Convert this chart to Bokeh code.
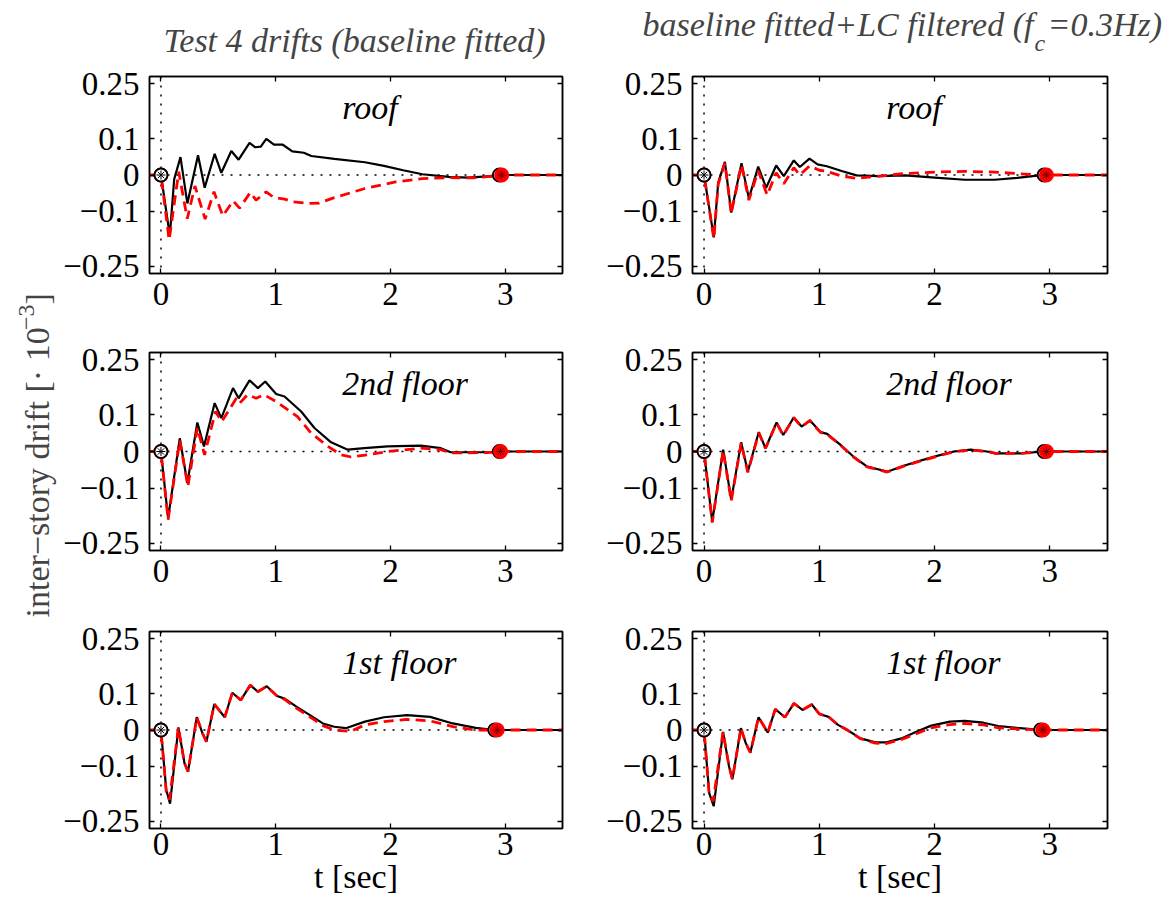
import math
from bokeh.plotting import figure
from bokeh.models import LinearAxis, FixedTicker, Span, Label, Range1d, CustomJSTickFormatter
from bokeh.layouts import row, column
from bokeh.embed import file_html
from bokeh.resources import INLINE

# ---------------- data (t in sec, drift in 1e-3) ----------------
# roof, baseline fitted
t_roof_bf_k = [-0.1, 0, 0.077, 0.115, 0.17, 0.23, 0.323, 0.381, 0.468, 0.526, 0.613, 0.677, 0.772, 0.822, 0.87, 0.918, 0.985, 1.062, 1.145, 1.245, 1.311, 1.511, 1.778, 1.944, 2.111, 2.278, 2.51, 2.677, 2.88, 2.95, 3.5]
v_roof_bf_k = [0, 0, -0.166, -0.012, 0.049, -0.078, 0.054, -0.035, 0.058, 0.006, 0.066, 0.042, 0.088, 0.076, 0.078, 0.099, 0.083, 0.083, 0.065, 0.061, 0.052, 0.044, 0.035, 0.025, 0.013, 0.002, -0.005, -0.007, -0.003, 0, 0]
t_roof_bf_r = [-0.1, 0, 0.071, 0.155, 0.229, 0.296, 0.385, 0.462, 0.539, 0.629, 0.685, 0.778, 0.829, 0.917, 0.985, 1.078, 1.145, 1.278, 1.378, 1.511, 1.778, 2.045, 2.278, 2.51, 2.71, 2.88, 2.97, 3.5]
v_roof_bf_r = [0, 0, -0.178, 0.009, -0.12, -0.03, -0.121, -0.046, -0.112, -0.071, -0.091, -0.048, -0.069, -0.046, -0.062, -0.066, -0.073, -0.078, -0.077, -0.062, -0.037, -0.019, -0.01, -0.007, -0.008, -0.004, 0, 0]
# roof, baseline fitted + LC filtered
t_roof_lc_k = [-0.1, 0, 0.085, 0.123, 0.181, 0.236, 0.325, 0.389, 0.47, 0.539, 0.626, 0.692, 0.779, 0.831, 0.915, 0.985, 1.065, 1.194, 1.323, 1.518, 1.744, 2.003, 2.262, 2.521, 2.716, 2.91, 2.95, 3.5]
v_roof_lc_k = [0, 0, -0.171, -0.021, 0.036, -0.103, 0.032, -0.064, 0.023, -0.035, 0.026, -0.003, 0.04, 0.022, 0.045, 0.029, 0.024, 0.011, -0.001, -0.003, -0.001, -0.007, -0.013, -0.013, -0.008, -0.001, 0, 0]
t_roof_lc_r = [-0.1, 0, 0.085, 0.123, 0.181, 0.236, 0.325, 0.389, 0.47, 0.548, 0.626, 0.692, 0.779, 0.831, 0.915, 1.0, 1.065, 1.194, 1.323, 1.518, 1.744, 2.003, 2.262, 2.521, 2.716, 2.91, 2.97, 3.5]
v_roof_lc_r = [0, 0, -0.175, -0.025, 0.033, -0.106, 0.028, -0.069, 0.012, -0.055, 0.006, -0.024, 0.02, 0.0, 0.025, 0.013, 0.01, -0.003, -0.009, -0.003, 0.004, 0.008, 0.01, 0.008, 0.004, 0.0, 0, 0]
# 2nd floor, baseline fitted
t_f2_bf_k = [-0.1, 0, 0.062, 0.164, 0.23, 0.317, 0.375, 0.468, 0.526, 0.628, 0.677, 0.772, 0.845, 0.909, 1.004, 1.077, 1.222, 1.338, 1.483, 1.628, 1.772, 1.976, 2.265, 2.439, 2.526, 2.845, 2.95, 3.5]
v_f2_bf_k = [0, 0, -0.182, 0.036, -0.086, 0.079, 0.014, 0.132, 0.091, 0.173, 0.145, 0.194, 0.173, 0.191, 0.157, 0.15, 0.109, 0.064, 0.025, 0.005, 0.009, 0.014, 0.016, 0.009, -0.002, -0.002, 0, 0]
t_f2_bf_r = [-0.1, 0, 0.062, 0.164, 0.235, 0.317, 0.38, 0.475, 0.53, 0.657, 0.687, 0.755, 0.83, 0.897, 1.004, 1.19, 1.309, 1.454, 1.57, 1.657, 1.8, 1.976, 2.265, 2.439, 2.526, 2.845, 2.96, 3.5]
v_f2_bf_r = [0, 0, -0.186, 0.03, -0.095, 0.065, -0.009, 0.109, 0.082, 0.145, 0.132, 0.155, 0.145, 0.155, 0.136, 0.095, 0.05, 0.014, -0.009, -0.015, -0.009, 0.0, 0.009, 0.005, -0.004, -0.003, 0, 0]
# 2nd floor, baseline fitted + LC filtered
t_f2_lc_k = [-0.1, 0, 0.071, 0.166, 0.236, 0.322, 0.38, 0.475, 0.533, 0.629, 0.687, 0.779, 0.846, 0.918, 1.01, 1.068, 1.184, 1.3, 1.415, 1.589, 1.733, 1.878, 2.022, 2.167, 2.311, 2.456, 2.528, 2.745, 2.95, 3.5]
v_f2_lc_k = [0, 0, -0.191, 0.005, -0.132, 0.025, -0.055, 0.053, 0.009, 0.079, 0.045, 0.093, 0.068, 0.085, 0.053, 0.048, 0.018, -0.015, -0.041, -0.055, -0.039, -0.025, -0.012, 0.0, 0.005, 0.0, -0.005, -0.005, 0, 0]
t_f2_lc_r = [-0.1, 0, 0.071, 0.166, 0.236, 0.322, 0.38, 0.475, 0.533, 0.629, 0.687, 0.779, 0.846, 0.918, 1.01, 1.068, 1.184, 1.3, 1.415, 1.589, 1.733, 1.878, 2.022, 2.167, 2.311, 2.456, 2.528, 2.745, 2.97, 3.5]
v_f2_lc_r = [0, 0, -0.194, 0.003, -0.135, 0.023, -0.057, 0.051, 0.008, 0.078, 0.044, 0.092, 0.067, 0.084, 0.052, 0.047, 0.017, -0.016, -0.042, -0.056, -0.04, -0.026, -0.013, -0.001, 0.004, 0.0, -0.005, -0.005, 0, 0]
# 1st floor, baseline fitted
t_f1_bf_k = [-0.1, 0, 0.046, 0.079, 0.152, 0.205, 0.236, 0.312, 0.362, 0.396, 0.465, 0.556, 0.622, 0.696, 0.778, 0.845, 0.922, 1.012, 1.078, 1.18, 1.278, 1.411, 1.511, 1.611, 1.778, 1.944, 2.145, 2.346, 2.544, 2.744, 2.91, 3.5]
v_f1_bf_k = [0, 0, -0.164, -0.202, 0.007, -0.091, -0.114, 0.035, -0.009, -0.032, 0.071, 0.035, 0.102, 0.082, 0.123, 0.105, 0.12, 0.093, 0.086, 0.064, 0.045, 0.018, 0.009, 0.005, 0.023, 0.035, 0.041, 0.036, 0.018, 0.006, 0, 0]
t_f1_bf_r = [-0.1, 0, 0.046, 0.075, 0.152, 0.205, 0.236, 0.312, 0.362, 0.396, 0.465, 0.556, 0.622, 0.696, 0.778, 0.845, 0.922, 1.012, 1.078, 1.18, 1.278, 1.411, 1.511, 1.65, 1.778, 1.944, 2.145, 2.346, 2.544, 2.744, 2.93, 3.5]
v_f1_bf_r = [0, 0, -0.17, -0.191, 0.007, -0.091, -0.114, 0.035, -0.009, -0.032, 0.071, 0.035, 0.102, 0.082, 0.123, 0.105, 0.12, 0.093, 0.084, 0.06, 0.04, 0.012, 0.0, -0.004, 0.014, 0.023, 0.029, 0.025, 0.009, 0.0, 0, 0]
# 1st floor, baseline fitted + LC filtered
t_f1_lc_k = [-0.1, 0, 0.045, 0.084, 0.165, 0.217, 0.246, 0.32, 0.362, 0.402, 0.473, 0.553, 0.618, 0.702, 0.78, 0.854, 0.935, 1.0, 1.081, 1.162, 1.243, 1.357, 1.486, 1.583, 1.712, 1.842, 1.971, 2.133, 2.262, 2.424, 2.553, 2.716, 2.861, 2.92, 3.5]
v_f1_lc_k = [0, 0, -0.173, -0.209, -0.005, -0.1, -0.135, 0.005, -0.036, -0.062, 0.035, -0.007, 0.057, 0.035, 0.073, 0.055, 0.07, 0.044, 0.036, 0.014, 0.0, -0.023, -0.034, -0.034, -0.023, -0.005, 0.012, 0.023, 0.025, 0.02, 0.011, 0.006, 0.002, 0, 0]
t_f1_lc_r = [-0.1, 0, 0.045, 0.08, 0.165, 0.217, 0.246, 0.32, 0.362, 0.402, 0.473, 0.553, 0.618, 0.702, 0.78, 0.854, 0.935, 1.0, 1.081, 1.162, 1.243, 1.357, 1.486, 1.583, 1.712, 1.842, 1.971, 2.133, 2.262, 2.424, 2.553, 2.716, 2.861, 2.94, 3.5]
v_f1_lc_r = [0, 0, -0.178, -0.195, -0.005, -0.1, -0.135, 0.005, -0.036, -0.062, 0.035, -0.007, 0.057, 0.035, 0.073, 0.055, 0.07, 0.044, 0.036, 0.014, 0.0, -0.024, -0.036, -0.037, -0.026, -0.01, 0.006, 0.015, 0.018, 0.014, 0.006, 0.003, 0.001, 0, 0]

panel_names = ["roof", "2nd floor", "1st floor"]
x_ticks = [0, 1, 2, 3]
x_tick_labels = ["0", "1", "2", "3"]
y_ticks = [-0.25, -0.1, 0, 0.1, 0.25]
y_tick_labels = ["\u22120.25", "\u22120.1", "0", "0.1", "0.25"]

FONT = "Liberation Serif"
TICK_FS = "33px"
TEXT_FS = "34px"


def style_axis(ax, ticks, labels, standoff, show_labels=True):
    ax.ticker = FixedTicker(ticks=ticks)
    if show_labels:
        ax.major_label_overrides = dict(zip(ticks, labels))
        ax.major_label_text_font_size = TICK_FS
    else:
        ax.formatter = CustomJSTickFormatter(code="return ''")
        ax.major_label_text_font_size = "0px"
    ax.axis_line_color = "black"
    ax.axis_line_width = 1.5
    ax.major_tick_line_color = "black"
    ax.major_tick_line_width = 1.3
    ax.major_tick_in = 5
    ax.major_tick_out = 0
    ax.minor_tick_line_color = None
    ax.major_label_text_font = FONT
    ax.major_label_text_color = "black"
    ax.major_label_standoff = standoff


def panel(w, h, bl, br, bt, bb, xs, tk, vk, tr, vr, name, xlabel=None):
    p = figure(width=w, height=h, x_range=Range1d(-0.1, 3.5), y_range=Range1d(-0.27, 0.27),
               output_backend="svg", toolbar_location=None,
               min_border_left=bl, min_border_right=br, min_border_top=bt, min_border_bottom=bb,
               background_fill_color="white", border_fill_color="white",
               outline_line_color="black", outline_line_width=1.5)
    p.xgrid.visible = False
    p.ygrid.visible = False
    bottom_ax = p.below[0]
    style_axis(bottom_ax, x_ticks, x_tick_labels, xs)
    style_axis(p.left[0], y_ticks, y_tick_labels, 10)
    if xlabel:
        bottom_ax.axis_label = xlabel
        bottom_ax.axis_label_text_font = FONT
        bottom_ax.axis_label_text_font_size = TEXT_FS
        bottom_ax.axis_label_text_font_style = "normal"
        bottom_ax.axis_label_text_color = "black"
        bottom_ax.axis_label_standoff = 0
    ax_r = LinearAxis()
    style_axis(ax_r, y_ticks, y_tick_labels, 0, show_labels=False)
    p.add_layout(ax_r, "right")
    ax_t = LinearAxis()
    style_axis(ax_t, x_ticks, x_tick_labels, 0, show_labels=False)
    p.add_layout(ax_t, "above")

    p.add_layout(Span(location=0, dimension="height", line_color="black", line_dash="2 7",
                      line_width=1.5, level="underlay"))
    p.add_layout(Span(location=0, dimension="width", line_color="black", line_dash="2 7",
                      line_width=1.5, level="underlay"))

    p.line(tk, vk, line_color="black", line_width=2.2)
    p.line(tr, vr, line_color="red", line_width=2.8, line_dash="10 6")

    # end markers
    p.scatter([tk[-2]], [vk[-2]], marker="circle", size=13, fill_color="white",
              line_color="black", line_width=2)
    p.scatter([tk[-2]], [vk[-2]], marker="asterisk", size=9, line_color="black", line_width=1)
    p.scatter([tr[1], tr[-2]], [vr[1], vr[-2]], marker="circle", size=13, fill_color="red",
              line_color="red", line_width=2)
    p.scatter([tr[-2]], [vr[-2]], marker="asterisk", size=9, line_color="#700000", line_width=1)
    # start marker
    p.scatter([tk[1]], [vk[1]], marker="circle", size=13, fill_color="white",
              line_color="black", line_width=2)
    p.scatter([tk[1]], [vk[1]], marker="asterisk", size=9, line_color="black", line_width=1)

    p.add_layout(Label(x=1.58, y=0.185, text=name, text_font=FONT, text_font_style="italic",
                       text_font_size=TEXT_FS, text_baseline="alphabetic", text_align="left",
                       text_color="black"))
    return p


def text_strip(w, h):
    s = figure(width=w, height=h, x_range=Range1d(0, w), y_range=Range1d(0, h),
               output_backend="svg", toolbar_location=None, min_border=0,
               x_axis_location=None, y_axis_location=None, outline_line_color=None,
               background_fill_color="white", border_fill_color="white")
    s.grid.visible = False
    try:
        s.frame_align = False
    except Exception:
        pass
    return s


LW, RW = 540, 564
TH = 59
# (height, top border, bottom border, x tick label standoff, x axis label)
rows_spec = [(260, 17, 46, 9, None), (278, 33, 47, 9, None), (310, 34, 79, 4, "t [sec]")]
series_left = [(t_roof_bf_k, v_roof_bf_k, t_roof_bf_r, v_roof_bf_r),
               (t_f2_bf_k, v_f2_bf_k, t_f2_bf_r, v_f2_bf_r),
               (t_f1_bf_k, v_f1_bf_k, t_f1_bf_r, v_f1_bf_r)]
series_right = [(t_roof_lc_k, v_roof_lc_k, t_roof_lc_r, v_roof_lc_r),
                (t_f2_lc_k, v_f2_lc_k, t_f2_lc_r, v_f2_lc_r),
                (t_f1_lc_k, v_f1_lc_k, t_f1_lc_r, v_f1_lc_r)]

left_figs, right_figs = [], []
for i, (h, bt, bb, xs, xl) in enumerate(rows_spec):
    left_figs.append(panel(LW, h, 88, 38, bt, bb, xs, *series_left[i], panel_names[i], xl))
    right_figs.append(panel(RW, h, 92, 57, bt, bb, xs, *series_right[i], panel_names[i], xl))

# column titles
title_l = text_strip(LW, TH)
title_l.add_layout(Label(x=103, y=19, text="Test 4  drifts (baseline fitted)",
                         text_font=FONT, text_font_style="italic", text_font_size=TEXT_FS,
                         text_align="left", text_baseline="alphabetic"))
title_r = text_strip(RW, TH)
for txt, x, y, fs in [("baseline fitted+LC filtered (f", 42, 35, TEXT_FS),
                      ("c", 434, 17, "24px"),
                      ("=0.3Hz)", 447, 35, TEXT_FS)]:
    title_r.add_layout(Label(x=x, y=y, text=txt, text_font=FONT, text_font_style="italic",
                             text_font_size=fs, text_align="left", text_baseline="alphabetic"))

# y label column
YW, YH = 60, 907
ylab = text_strip(YW, YH)
for txt, x, y, fs in [("inter\u2212story drift [\u00b7 10", 37, 290, TEXT_FS),
                      ("\u22123", 26, 577.5, "24px"),
                      ("]", 37, 603, TEXT_FS)]:
    ylab.add_layout(Label(x=x, y=y, text=txt, angle=math.pi / 2, text_font=FONT,
                          text_font_size=fs, text_align="left", text_baseline="alphabetic"))

layout = row(ylab, column(title_l, *left_figs), column(title_r, *right_figs))
open("out.html", "w").write(file_html(layout, INLINE))
